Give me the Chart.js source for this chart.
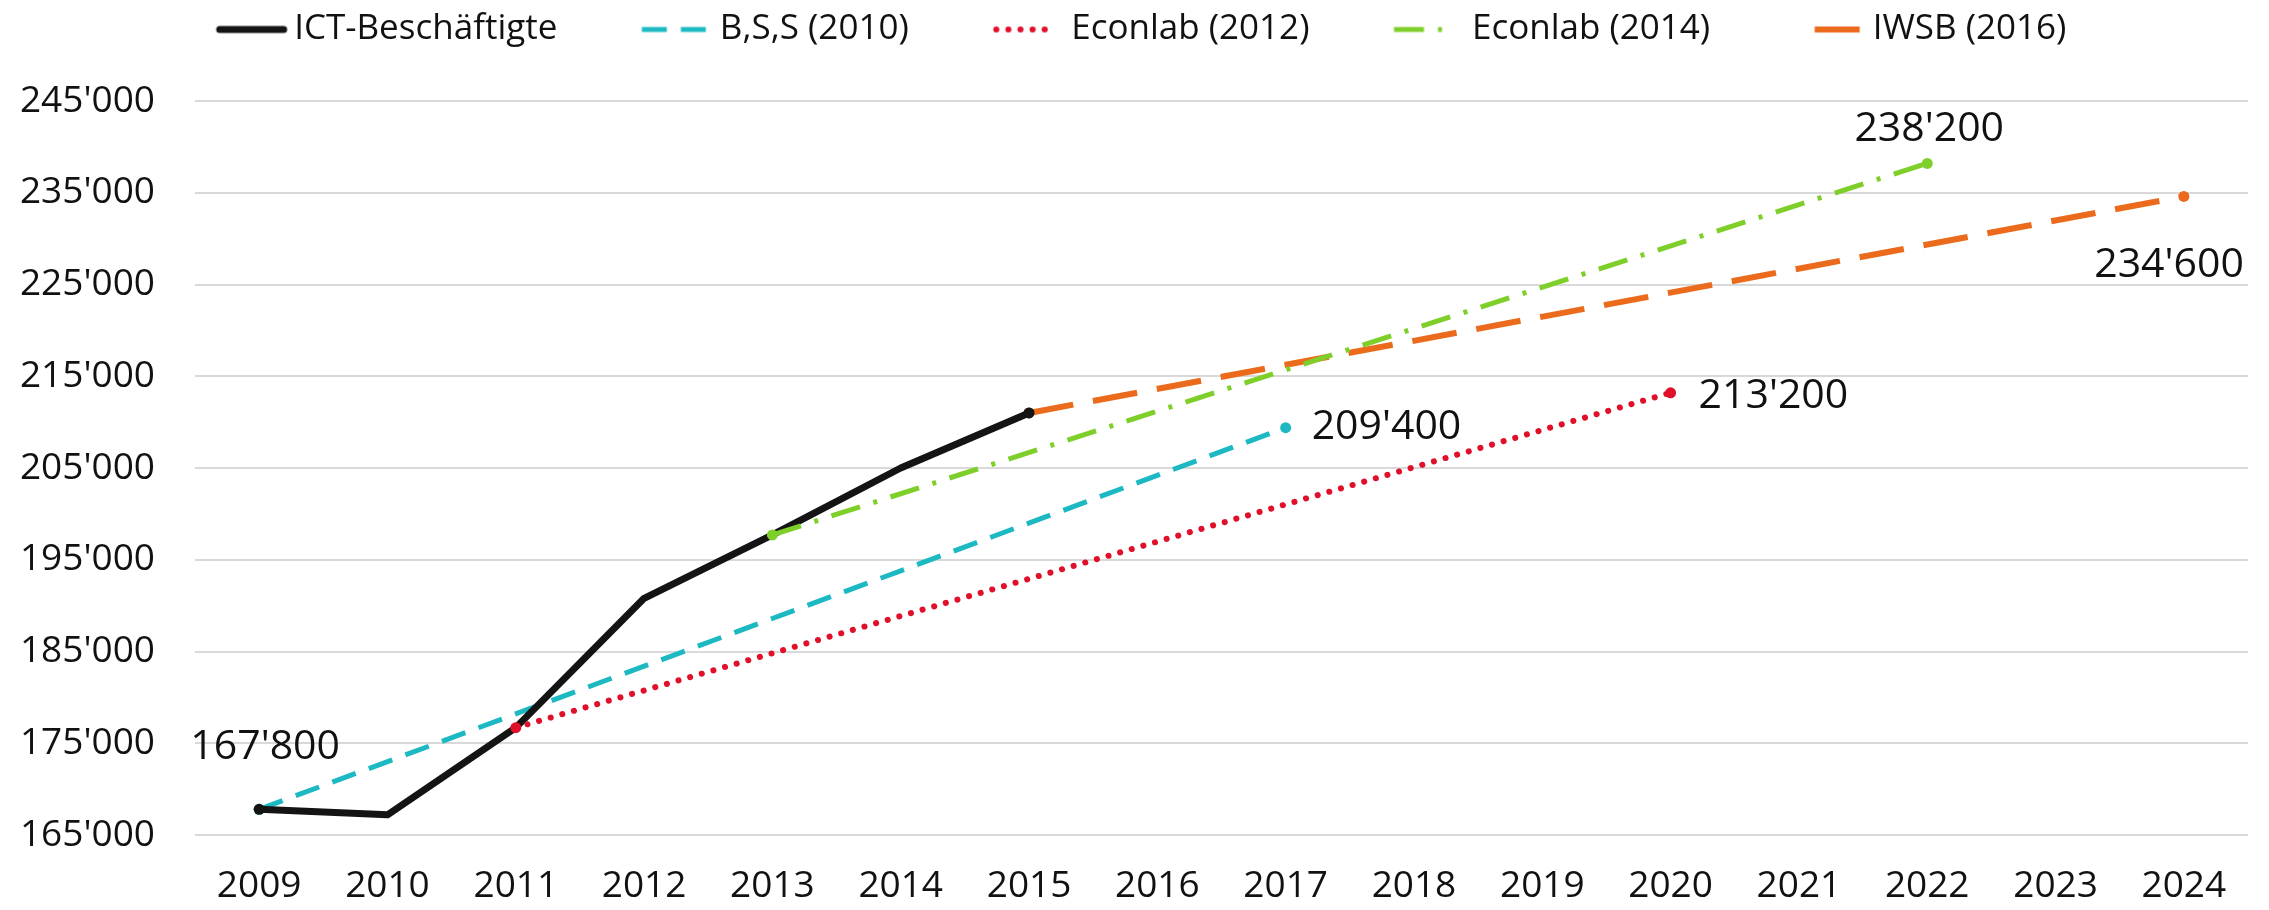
<!DOCTYPE html>
<html><head><meta charset="utf-8">
<script src="https://cdn.jsdelivr.net/npm/chart.js@4.4.1/dist/chart.umd.min.js"></script>
<style>html,body{margin:0;padding:0;background:#fff}#wrap{width:2269px;height:910px;position:relative}</style>
</head><body><div id="wrap"><canvas id="c"></canvas></div>
<script>
// ---- data ----
const years = ['2009','2010','2011','2012','2013','2014','2015','2016','2017','2018','2019','2020','2021','2022','2023','2024'];
const yTickValues = [165000,175000,185000,195000,205000,215000,225000,235000,245000];
const seriesNames = ['ICT-Beschäftigte','B,S,S (2010)','Econlab (2012)','Econlab (2014)','IWSB (2016)'];
const ictYears = ['2009','2010','2011','2012','2013','2014','2015'];
const ictValues = [167800,167200,176700,190800,197700,205000,211000];
const bssYears = ['2009','2017'];
const bssValues = [167800,209400];
const econ12Years = ['2011','2020'];
const econ12Values = [176700,213200];
const econ14Years = ['2013','2022'];
const econ14Values = [197700,238200];
const iwsbYears = ['2015','2024'];
const iwsbValues = [211000,234600];

// ---- styles ----
const FONT = "'Open Sans', 'Noto Sans', sans-serif";
const styles = [
  {color:'#141414', width:7, dash:[], cap:'round', order:3, sampleOffset:0, sampleLen:71},
  {color:'#1db9c3', width:5, dash:[25,14], cap:'butt', order:4, sampleOffset:0, sampleLen:71},
  {color:'#e0102a', width:6, dash:[0.1,12], cap:'round', order:2, sampleOffset:0, sampleLen:66},
  {color:'#7fcf2a', width:5, dash:[30,14,4,14], cap:'butt', order:1, sampleOffset:0, sampleLen:48},
  {color:'#ec6a1c', width:6, dash:[45,20], cap:'butt', order:5, sampleOffset:45, sampleLen:65}
];
// label placement per series: index of the labelled point, offset of text centre / alignment
const labelStyles = [
  {idx:0, dx:6, dy:-62, align:'center'},
  {idx:1, dx:26, dy:0, align:'left'},
  {idx:1, dx:28, dy:4, align:'left'},
  {idx:1, dx:2, dy:-34, align:'center'},
  {idx:1, dx:60, dy:69, align:'right'}
];
const LEGEND_BOX = 139;   // legend box width (includes leading gap)
const SAMPLE_LEN = 71;    // legend sample slot length
const SPACER_H = 44;      // gap between legend and plot
const LEGEND_SHIFT = -22; // horizontal nudge of the legend row

function fmt(v){ return String(Math.round(v)).replace(/\B(?=(\d{3})+(?!\d))/g, "'"); }
function pts(xs, ys){ return xs.map((x,i)=>({x:x, y:ys[i]})); }

const seriesData = [pts(ictYears,ictValues), pts(bssYears,bssValues), pts(econ12Years,econ12Values), pts(econ14Years,econ14Values), pts(iwsbYears,iwsbValues)];

function makeSample(st){
  const ext = 12;
  const c = document.createElement('canvas');
  c.width = LEGEND_BOX + 2*ext; c.height = 14;
  const g = c.getContext('2d');
  g.strokeStyle = st.color; g.lineWidth = st.width; g.lineCap = st.cap;
  g.setLineDash(st.dash); g.lineDashOffset = st.sampleOffset;
  const x0 = LEGEND_BOX + 10.5 + ext - SAMPLE_LEN, x1 = x0 + st.sampleLen;
  const inset = st.cap==='round' ? st.width/2 : 0;
  g.beginPath(); g.moveTo(x0+inset, 7); g.lineTo(x1-inset, 7); g.stroke();
  return c;
}

const datasets = seriesData.map((d,i)=>{
  const st = styles[i];
  return {
    label: seriesNames[i], data: d,
    borderColor: st.color, backgroundColor: st.color,
    borderWidth: st.width, borderDash: st.dash, borderCapStyle: st.cap, borderJoinStyle:'round',
    pointRadius: (ctx)=> (ctx.dataIndex===0 || ctx.dataIndex===d.length-1) ? 5.5 : 0,
    pointBorderWidth: 0, pointBackgroundColor: st.color, pointHoverRadius: 0,
    tension: 0, fill: false, order: st.order
  };
});

const labelPlugin = {
  id:'valueLabels',
  afterLayout(chart){
    if (chart.legend){ chart.legend.left += LEGEND_SHIFT; chart.legend.right += LEGEND_SHIFT; }
  },
  afterDatasetsDraw(chart){
    const ctx = chart.ctx;
    ctx.save();
    ctx.font = "41px " + FONT;
    ctx.fillStyle = '#111';
    ctx.textBaseline = 'middle';
    labelStyles.forEach((ls, i)=>{
      const el = chart.getDatasetMeta(i).data[ls.idx];
      const v = chart.data.datasets[i].data[ls.idx].y;
      ctx.textAlign = ls.align;
      ctx.fillText(fmt(v), el.x + ls.dx, el.y + ls.dy);
    });
    ctx.restore();
  }
};

const spacerPlugin = {
  id:'spacer',
  beforeInit(chart){
    const box = {
      position:'top', weight:1, fullSize:true,
      options:{position:'top', weight:1, fullSize:true},
      top:0,left:0,bottom:0,right:0,width:0,height:0,
      isHorizontal(){ return true; },
      update(maxWidth){ this.width = maxWidth; this.height = SPACER_H; },
      getPadding(){ return {top:0,left:0,right:0,bottom:0}; },
      draw(){}
    };
    Chart.layouts.addBox(chart, box);
  }
};

new Chart(document.getElementById('c'), {
  type:'line',
  data:{labels: years, datasets: datasets},
  options:{
    responsive:true, maintainAspectRatio:false, animation:false,
    layout:{padding:{left:0,right:21,top:6,bottom:0}},
    plugins:{
      tooltip:{enabled:false},
      legend:{
        position:'top',
        labels:{
          usePointStyle:true, pointStyleWidth:LEGEND_BOX, padding:6,
          font:{family:FONT, size:35}, color:'#111',
          generateLabels(chart){
            return chart.data.datasets.map((d,i)=>({
              text:d.label, pointStyle:makeSample(styles[i]), datasetIndex:i,
              hidden:false, fontColor:'#111', lineWidth:0, strokeStyle:'rgba(0,0,0,0)', fillStyle:'rgba(0,0,0,0)'
            }));
          }
        }
      }
    },
    scales:{
      x:{
        type:'category', offset:true,
        grid:{display:false, drawTicks:false}, border:{display:false},
        ticks:{font:{family:FONT,size:37}, color:'#111', padding:29, maxRotation:0, autoSkip:false},
        afterFit(s){ s.height = 75; }
      },
      y:{
        min:165000, max:245000,
        afterBuildTicks(s){ s.ticks = yTickValues.map(v=>({value:v})); },
        grid:{color:'#d9d9d9', lineWidth:2, drawTicks:false}, border:{display:false},
        ticks:{font:{family:FONT,size:37}, color:'#111', padding:40, callback:(v)=>fmt(v)},
        afterFit(s){ s.width = 195; }
      }
    }
  },
  plugins:[labelPlugin, spacerPlugin]
});
</script></body></html>
